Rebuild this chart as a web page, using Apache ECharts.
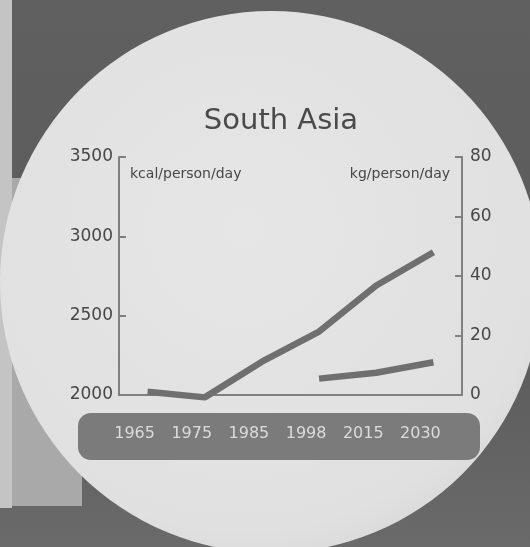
<!DOCTYPE html>
<html>
<head>
<meta charset="utf-8">
<script src="https://cdn.jsdelivr.net/npm/echarts@6/dist/echarts.min.js"></script>
<style>
html,body{margin:0;padding:0;background:#5e5e5e;}
#chart{width:530px;height:547px;}
</style>
</head>
<body>
<div id="chart"></div>
<script>
const categories = ['1965', '1975', '1985', '1998', '2015', '2030'];
const kcalValues = [2020, 1985, 2210, 2400, 2690, 2900];
const kgValues = [null, null, null, 5.5, 7.5, 11];
const leftTicks = { min: 2000, max: 3500, interval: 500 };
const rightTicks = { min: 0, max: 80, interval: 20 };

const FONT = 'DejaVu Sans';
const axisGray = '#808080';
const textGray = '#474747';
const lineGray = '#6f6f6f';

const chart = echarts.init(document.getElementById('chart'), null, { renderer: 'canvas' });

chart.setOption({
  animation: false,
  backgroundColor: '#5e5e5e',
  title: {
    text: 'South Asia',
    left: 276, top: 102,
    textAlign: 'center',
    textStyle: { fontFamily: FONT, fontSize: 29, fontWeight: 'normal', color: '#4a4a4a' }
  },
  graphic: [
    { type: 'rect', z: -40, shape: { x: 0, y: 0, width: 530, height: 547 },
      style: { fill: new echarts.graphic.LinearGradient(0, 0, 0, 1, [
        { offset: 0, color: '#606060' }, { offset: 0.6, color: '#5a5a5a' }, { offset: 1, color: '#6a6a6a' }]) } },
    { type: 'rect', z: -35, shape: { x: 12, y: 178, width: 70, height: 328 }, style: { fill: '#a9a9a9' } },
    { type: 'rect', z: -35, shape: { x: 0, y: 0, width: 12, height: 508 }, style: { fill: '#c4c4c4' } },
    { type: 'circle', z: -30, shape: { cx: 271, cy: 282, r: 271 },
      style: { fill: new echarts.graphic.RadialGradient(0.45, 0.4, 0.7, [
        { offset: 0, color: '#e6e6e6' }, { offset: 0.8, color: '#e0e0e0' }, { offset: 1, color: '#d4d4d4' }]) } },
    { type: 'rect', z: -20, shape: { x: 78, y: 413, width: 402, height: 47, r: 13 }, style: { fill: '#7b7b7b' } }
  ],
  grid: { left: 119, right: 68, top: 157, bottom: 152 },
  xAxis: {
    type: 'category',
    data: categories,
    boundaryGap: true,
    axisLine: { lineStyle: { color: axisGray, width: 2 } },
    axisTick: { inside: true, length: 5, lineStyle: { color: axisGray, width: 2 } },
    axisLabel: { margin: 31, color: '#dcdcdc', fontFamily: FONT, fontSize: 16, padding: [0, 26, 0, 0] }
  },
  yAxis: [
    {
      type: 'value', position: 'left',
      min: leftTicks.min, max: leftTicks.max, interval: leftTicks.interval,
      name: 'kcal/person/day', nameLocation: 'end', nameGap: -17,
      nameTextStyle: { fontFamily: FONT, fontSize: 14, color: textGray, align: 'left', verticalAlign: 'middle', padding: [0, 0, 0, 11] },
      axisLine: { show: true, lineStyle: { color: axisGray, width: 2 } },
      axisTick: { show: true, inside: true, length: 7, lineStyle: { color: axisGray, width: 2 } },
      axisLabel: { margin: 6, color: textGray, fontFamily: FONT, fontSize: 17, formatter: v => String(v) },
      splitLine: { show: false }
    },
    {
      type: 'value', position: 'right',
      min: rightTicks.min, max: rightTicks.max, interval: rightTicks.interval,
      name: 'kg/person/day', nameLocation: 'end', nameGap: -17,
      nameTextStyle: { fontFamily: FONT, fontSize: 14, color: textGray, align: 'right', verticalAlign: 'middle', padding: [0, 12, 0, 0] },
      axisLine: { show: true, lineStyle: { color: axisGray, width: 2 } },
      axisTick: { show: true, inside: true, length: 7, lineStyle: { color: axisGray, width: 2 } },
      axisLabel: { margin: 8, color: textGray, fontFamily: FONT, fontSize: 17, formatter: v => String(v) },
      splitLine: { show: false }
    }
  ],
  series: [
    { name: 'kcal/person/day', type: 'line', yAxisIndex: 0, data: kcalValues,
      showSymbol: false, clip: false, lineStyle: { color: lineGray, width: 6.5 } },
    { name: 'kg/person/day', type: 'line', yAxisIndex: 1, data: kgValues,
      showSymbol: false, clip: false, lineStyle: { color: lineGray, width: 6.5 } }
  ]
});
</script>
</body>
</html>
